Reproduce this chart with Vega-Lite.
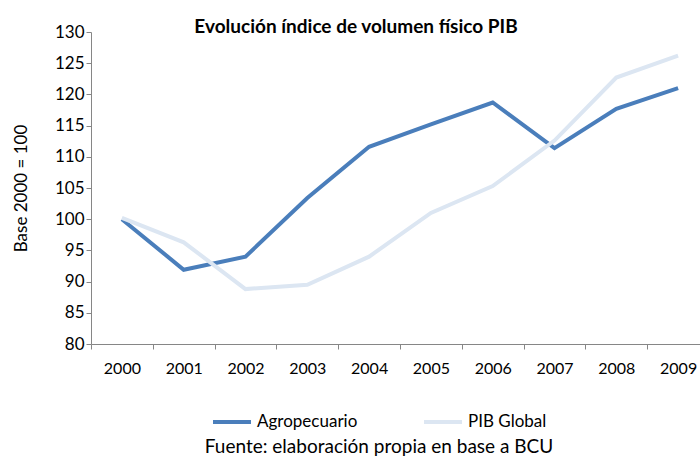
{
  "$schema": "https://vega.github.io/schema/vega-lite/v6.json",
  "width": 618,
  "height": 312,
  "autosize": {"type": "none"},
  "padding": {"left": 91, "top": 32, "right": 0, "bottom": 115},
  "background": "white",
  "config": {
    "font": "Lato",
    "view": {"stroke": null}
  },
  "title": {
    "text": "Evolución índice de volumen físico PIB",
    "fontSize": 19,
    "fontWeight": "bold",
    "font": "Lato",
    "color": "#000000",
    "anchor": "middle",
    "dx": -44,
    "offset": -14
  },
  "data": {
    "values": [
      {"year": "2000", "serie": "Agropecuario", "v": 100.0},
      {"year": "2001", "serie": "Agropecuario", "v": 91.9},
      {"year": "2002", "serie": "Agropecuario", "v": 94.0},
      {"year": "2003", "serie": "Agropecuario", "v": 103.4},
      {"year": "2004", "serie": "Agropecuario", "v": 111.6},
      {"year": "2005", "serie": "Agropecuario", "v": 115.2},
      {"year": "2006", "serie": "Agropecuario", "v": 118.7},
      {"year": "2007", "serie": "Agropecuario", "v": 111.4},
      {"year": "2008", "serie": "Agropecuario", "v": 117.7},
      {"year": "2009", "serie": "Agropecuario", "v": 121.0},
      {"year": "2000", "serie": "PIB Global", "v": 100.2},
      {"year": "2001", "serie": "PIB Global", "v": 96.3},
      {"year": "2002", "serie": "PIB Global", "v": 88.8},
      {"year": "2003", "serie": "PIB Global", "v": 89.5},
      {"year": "2004", "serie": "PIB Global", "v": 94.0},
      {"year": "2005", "serie": "PIB Global", "v": 101.0},
      {"year": "2006", "serie": "PIB Global", "v": 105.3},
      {"year": "2007", "serie": "PIB Global", "v": 112.6},
      {"year": "2008", "serie": "PIB Global", "v": 122.7},
      {"year": "2009", "serie": "PIB Global", "v": 126.2}
    ]
  },
  "mark": {"type": "line", "strokeWidth": 4, "strokeJoin": "miter"},
  "encoding": {
    "x": {
      "field": "year",
      "type": "ordinal",
      "scale": {"type": "band", "paddingInner": 0, "paddingOuter": 0},
      "axis": {
        "title": null,
        "labelAngle": 0,
        "labelFontSize": 16,
        "labelColor": "#000000",
        "labelPadding": 11,
        "tickBand": "extent",
        "tickSize": 5,
        "tickColor": "#868686",
        "domainColor": "#868686",
        "grid": false
      }
    },
    "y": {
      "field": "v",
      "type": "quantitative",
      "scale": {"domain": [80, 130], "nice": false, "zero": false},
      "axis": {
        "title": "Base 2000 = 100",
        "titleFontSize": 17,
        "titleFontWeight": "normal",
        "titleColor": "#000000",
        "titlePadding": 24,
        "values": [80, 85, 90, 95, 100, 105, 110, 115, 120, 125, 130],
        "labelFontSize": 17,
        "labelColor": "#000000",
        "labelPadding": 2,
        "tickSize": 5,
        "tickColor": "#868686",
        "domainColor": "#868686",
        "grid": false
      }
    },
    "color": {
      "field": "serie",
      "type": "nominal",
      "scale": {"domain": ["Agropecuario", "PIB Global"], "range": ["#4A7EBB", "#DCE6F2"]},
      "legend": {
        "title": "Fuente: elaboración propia en base a BCU",
        "titleOrient": "bottom",
        "titleAnchor": "middle",
        "titleFontSize": 19,
        "titleFontWeight": "normal",
        "titleColor": "#000000",
        "titlePadding": 8,
        "titleLimit": 700,
        "orient": "none",
        "legendX": 114,
        "legendY": 369,
        "direction": "horizontal",
        "symbolType": "stroke",
        "symbolSize": 1444,
        "symbolStrokeWidth": 4,
        "labelFontSize": 17,
        "labelColor": "#000000",
        "labelOffset": 4,
        "columnPadding": 58
      }
    }
  }
}
